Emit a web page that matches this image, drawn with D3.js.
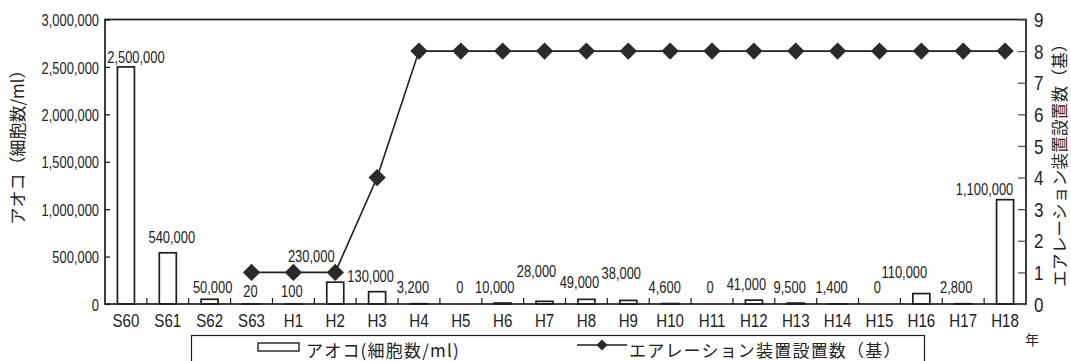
<!DOCTYPE html>
<html>
<head>
<meta charset="utf-8">
<script src="https://cdn.jsdelivr.net/npm/d3@7"></script>
<style>
  body { margin: 0; background: #fff; }
  svg { display: block; }
  .num { font-family: "Liberation Sans", Arial, sans-serif; fill: #222; }
  .jp { font-family: "Noto Sans CJK JP", sans-serif; fill: #222; }
</style>
</head>
<body>
<div id="chart"></div>
<script>
"use strict"

// data
const years = ["S60", "S61", "S62", "S63", "H1", "H2", "H3", "H4", "H5", "H6", "H7",
               "H8", "H9", "H10", "H11", "H12", "H13", "H14", "H15", "H16", "H17", "H18"];
const aokoCells = [2500000, 540000, 50000, 20, 100, 230000, 130000, 3200, 0, 10000, 28000,
                   49000, 38000, 4600, 0, 41000, 9500, 1400, 0, 110000, 2800, 1100000];
const aerators = [null, null, null, 1, 1, 1, 4, 8, 8, 8, 8,
                  8, 8, 8, 8, 8, 8, 8, 8, 8, 8, 8];
const leftTicks = [0, 500000, 1000000, 1500000, 2000000, 2500000, 3000000];
const rightTicks = [0, 1, 2, 3, 4, 5, 6, 7, 8, 9];

const leftTitle = "アオコ（細胞数/ml）";
const rightTitle = "エアレーション装置設置数（基）";
const barLegend = "アオコ(細胞数/ml)";
const lineLegend = "エアレーション装置設置数（基）";
const xUnit = "年";

// layout
const width = 1071;
const height = 361;
const plotLeft = 105;
const plotRight = 1026;
const plotTop = 19.5;
const plotBottom = 304;
const barWidth = 17;
const ink = "#1e1e1e";

// hand placed value labels in the original, nudged from default spot
const labelNudge = {
    "S60": [16, 2.5], "S61": [10, -4], "S62": [9, 0], "S63": [5, 4], "H1": [4.5, 4],
    "H2": [-18, -14], "H3": [-0.5, -4], "H5": [5, 0], "H6": [-2, 0], "H7": [-2, -16],
    "H8": [-1, -5], "H9": [-1, -14], "H10": [0.5, 0], "H11": [4, 0], "H12": [-1.5, -3],
    "H15": [4, 0], "H16": [-11, -9.5], "H17": [-1, 0], "H18": [-14.5, 1.5]
};

// condensed look: squeeze text horizontally, keeping its anchor in place
function Squeeze(selection, s)
{
    selection.each(function() {
        const t = d3.select(this);
        const x0 = +t.attr("x") || 0;
        t.attr("x", x0 / s).attr("transform", `scale(${s},1)`);
    });
}

const svg = d3.select("#chart").append("svg")
    .attr("width", width)
    .attr("height", height);

const x = d3.scaleBand()
    .domain(years)
    .range([plotLeft, plotRight])
    .padding(0);

const yLeft = d3.scaleLinear()
    .domain([0, 3000000])
    .range([plotBottom, plotTop]);

const yRight = d3.scaleLinear()
    .domain([0, 9])
    .range([plotBottom, plotTop]);

const fmt = d3.format(",");

// bars
svg.append("g")
    .selectAll("rect")
    .data(years)
    .join("rect")
        .attr("x", d => x(d) + x.bandwidth() / 2 - barWidth / 2)
        .attr("y", (d, i) => yLeft(aokoCells[i]))
        .attr("width", barWidth)
        .attr("height", (d, i) => plotBottom - yLeft(aokoCells[i]))
        .attr("fill", "#fff")
        .attr("stroke", ink)
        .attr("stroke-width", 1.7);

// frame
svg.append("rect")
    .attr("x", plotLeft)
    .attr("y", plotTop)
    .attr("width", plotRight - plotLeft)
    .attr("height", plotBottom - plotTop)
    .attr("fill", "none")
    .attr("stroke", ink)
    .attr("stroke-width", 1.7);

// left axis
const leftAxis = svg.append("g")
    .attr("transform", `translate(${plotLeft},0)`)
    .call(d3.axisLeft(yLeft).tickValues(leftTicks).tickFormat(fmt).tickSizeInner(-5).tickSizeOuter(0).tickPadding(6));
leftAxis.select(".domain").remove();
leftAxis.selectAll("line").attr("stroke", ink).attr("stroke-width", 1.3);
leftAxis.selectAll("text").attr("class", "num").attr("font-size", 17).attr("x", -6).attr("dy", "0.36em");
Squeeze(leftAxis.selectAll("text"), 0.76);

// right axis
const rightAxis = svg.append("g")
    .attr("transform", `translate(${plotRight},0)`)
    .call(d3.axisRight(yRight).tickValues(rightTicks).tickSizeInner(-8).tickSizeOuter(0));
rightAxis.select(".domain").remove();
rightAxis.selectAll("line").attr("stroke", "#555").attr("stroke-width", 1.3);
rightAxis.selectAll("text").attr("class", "num").attr("font-size", 20).attr("x", 8).attr("dy", "0.36em");
Squeeze(rightAxis.selectAll("text"), 0.85);

// x axis: category labels plus inner boundary ticks
const xAxis = svg.append("g")
    .attr("transform", `translate(0,${plotBottom})`)
    .call(d3.axisBottom(x).tickSize(0).tickPadding(10));
xAxis.select(".domain").remove();
xAxis.selectAll("text").attr("class", "num").attr("font-size", 18).attr("dy", "0.71em");
Squeeze(xAxis.selectAll("text"), 0.84);

svg.append("g")
    .selectAll("line")
    .data(years.slice(1))
    .join("line")
        .attr("x1", d => x(d))
        .attr("x2", d => x(d))
        .attr("y1", plotBottom)
        .attr("y2", plotBottom - 6)
        .attr("stroke", ink)
        .attr("stroke-width", 1.2);

// value labels
const valueLabels = svg.append("g")
    .selectAll("text")
    .data(years)
    .join("text")
        .attr("class", "num")
        .attr("font-size", 17)
        .attr("text-anchor", "middle")
        .attr("x", (d, i) => x(d) + x.bandwidth() / 2 - 6 + (labelNudge[d] ? labelNudge[d][0] : 0))
        .attr("y", (d, i) => Math.min(yLeft(aokoCells[i]) - 6, plotBottom - 11) + (labelNudge[d] ? labelNudge[d][1] : 0))
        .text((d, i) => fmt(aokoCells[i]));
Squeeze(valueLabels, 0.76);

// line with diamond markers
const points = years.map((d, i) => ({ year: d, value: aerators[i] })).filter(p => p.value != null);

const line = d3.line()
    .x(p => x(p.year) + x.bandwidth() / 2)
    .y(p => yRight(p.value));

svg.append("path")
    .datum(points)
    .attr("d", line)
    .attr("fill", "none")
    .attr("stroke", ink)
    .attr("stroke-width", 1.6);

const diamond = d3.symbol(d3.symbolSquare, 150);

svg.append("g")
    .selectAll("path")
    .data(points)
    .join("path")
        .attr("d", diamond)
        .attr("transform", p => `translate(${x(p.year) + x.bandwidth() / 2},${yRight(p.value)}) rotate(45)`)
        .attr("fill", "#2a2a2a");

// axis titles
svg.append("text")
    .attr("class", "jp")
    .attr("font-size", 17)
    .attr("text-anchor", "middle")
    .attr("transform", "translate(24,143) rotate(-90)")
    .text(leftTitle);

svg.append("text")
    .attr("class", "jp")
    .attr("font-size", 16.5)
    .attr("letter-spacing", 0.3)
    .attr("text-anchor", "middle")
    .attr("transform", "translate(1066,161) rotate(-90)")
    .text(rightTitle);

svg.append("text")
    .attr("class", "jp")
    .attr("font-size", 14)
    .attr("text-anchor", "middle")
    .attr("x", 1032)
    .attr("y", 345)
    .text(xUnit);

// legend
const legend = svg.append("g");

legend.append("rect")
    .attr("x", 191.5)
    .attr("y", 335.5)
    .attr("width", 733)
    .attr("height", 40)
    .attr("fill", "#fff")
    .attr("stroke", ink)
    .attr("stroke-width", 1.2);

legend.append("rect")
    .attr("x", 258)
    .attr("y", 343)
    .attr("width", 41)
    .attr("height", 8)
    .attr("fill", "#fff")
    .attr("stroke", ink)
    .attr("stroke-width", 1.4);

legend.append("text")
    .attr("class", "jp")
    .attr("font-size", 17)
    .attr("letter-spacing", 1.2)
    .attr("x", 306)
    .attr("y", 357)
    .text(barLegend);

legend.append("line")
    .attr("x1", 577)
    .attr("x2", 627)
    .attr("y1", 345)
    .attr("y2", 345)
    .attr("stroke", ink)
    .attr("stroke-width", 1.6);

legend.append("path")
    .attr("d", d3.symbol(d3.symbolSquare, 60))
    .attr("transform", "translate(602,345) rotate(45)")
    .attr("fill", "#2a2a2a");

legend.append("text")
    .attr("class", "jp")
    .attr("font-size", 17)
    .attr("letter-spacing", 1.2)
    .attr("x", 629)
    .attr("y", 357)
    .text(lineLegend);
</script>
</body>
</html>
